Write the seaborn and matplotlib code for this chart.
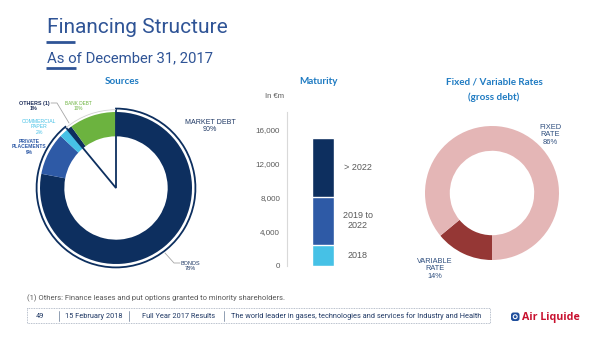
import numpy as np
import pandas as pd
import matplotlib
matplotlib.use("Agg")
import matplotlib.pyplot as plt
import seaborn as sns
from matplotlib.patches import Wedge, Arc, FancyBboxPatch, Rectangle, Circle

sns.set_theme(style="white")
plt.rcParams['font.family'] = ['Liberation Sans', 'DejaVu Sans']

# ---------------- data ----------------
source_labels = ["BONDS\n78%", "PRIVATE\nPLACEMENTS\n9%", "COMMERCIAL\nPAPER\n2%", "OTHERS (1)\n1%", "BANK DEBT\n10%"]
source_pct = [78, 9, 2, 1, 10]
market_debt_label = "MARKET DEBT\n90%"
maturity_labels = ["2018", "2019 to\n2022", "> 2022"]
maturity_values = [2500, 5600, 6900]
maturity_ticks = [0, 4000, 8000, 12000, 16000]
rate_labels = ["VARIABLE\nRATE\n14%", "FIXED\nRATE\n86%"]
rate_pct = [14, 86]

# ---------------- styling ----------------
NAVY = "#0d2f5f"
MID = "#2e5aa6"
LIGHT = "#46c1e6"
GREEN = "#6cb33f"
PINK = "#e4b6b6"
DRED = "#953735"
TITLE_BLUE = "#2f5496"
SEC_BLUE = "#1f7bc2"
GREY = "#595959"

W, H = 600, 337
fig = plt.figure(figsize=(6, 3.37), dpi=100)
fig.patch.set_facecolor("white")


def px_axes(x0, y0, x1, y1):
    return fig.add_axes([x0 / W, 1 - y1 / H, (x1 - x0) / W, (y1 - y0) / H])


def donut_axes(cx, cy, r, m=1.35):
    R = r * m
    ax = px_axes(cx - R, cy - R, cx + R, cy + R)
    ax.axis('off')
    return ax, m


# ---------------- Sources donut ----------------
ax1, m1 = donut_axes(116, 188, 76)
src_colors = [NAVY, MID, LIGHT, NAVY, GREEN]
ax1.pie(source_pct, colors=src_colors, startangle=90, counterclock=False, radius=1,
        wedgeprops=dict(width=0.32, edgecolor='none'))
ax1.set_xlim(-m1, m1)
ax1.set_ylim(-m1, m1)
frac_market = sum(source_pct[:3]) / sum(source_pct)
ax1.add_patch(Wedge((0, 0), 1.045, 90 - 360 * frac_market, 90, fill=False,
                    edgecolor=NAVY, lw=1.3))
ax1.add_patch(Arc((0, 0), 2.06, 2.06, theta1=90, theta2=90 + 360 * (1 - frac_market),
                  color="#d0d0d0", lw=0.6))

# ---------------- Maturity stacked bar ----------------
axm = px_axes(287, 112, 400, 266)
cum = np.cumsum(maturity_values)
mat_colors = [LIGHT, MID, NAVY]
for i in reversed(range(len(maturity_values))):
    sns.barplot(x=["Maturity"], y=[cum[i]], color=mat_colors[i], saturation=1,
                width=0.8, errorbar=None, ax=axm)
axm.set_xlim(-1.31, 2.8)
axm.set_ylim(0, 18000)
axm.set_yticks(maturity_ticks)
axm.set_yticklabels([f"{t:,}" for t in maturity_ticks])
axm.set_xticks([])
axm.set_xlabel("")
axm.set_ylabel("")
axm.tick_params(axis='y', length=0, pad=5, labelsize=5.8, labelcolor=GREY)
for s in ["top", "right", "bottom"]:
    axm.spines[s].set_visible(False)
axm.spines["left"].set_color("#d9d9d9")
axm.spines["left"].set_linewidth(0.8)
axm.set_facecolor("none")
bottoms = np.concatenate([[0], cum[:-1]])
for lab, b, t in zip(maturity_labels, bottoms, cum):
    axm.text(1.27, (b + t) / 2, lab, ha='center', va='center', fontsize=6.5,
             color=GREY, linespacing=1.1)

# ---------------- Fixed / Variable donut ----------------
ax3, m3 = donut_axes(492, 193, 67)
ax3.pie(rate_pct, colors=[DRED, PINK], startangle=270, counterclock=False, radius=1,
        wedgeprops=dict(width=0.37, edgecolor='none'))
ax3.set_xlim(-m3, m3)
ax3.set_ylim(-m3, m3)

# ---------------- overlay (texts in pixel coords) ----------------
ov = fig.add_axes([0, 0, 1, 1])
ov.set_xlim(0, W)
ov.set_ylim(H, 0)
ov.axis('off')

ov.text(47, 33, "Financing Structure", fontsize=15, color=TITLE_BLUE,
        family=['Roboto', 'DejaVu Sans'], va='baseline')
ov.plot([46, 75], [42, 42], color=TITLE_BLUE, lw=2, solid_capstyle='butt')
ov.text(47, 62, "As of December 31, 2017", fontsize=10.7, color=TITLE_BLUE,
        family=['Roboto', 'DejaVu Sans'], va='baseline')
ov.plot([46, 76], [68, 68], color=TITLE_BLUE, lw=2, solid_capstyle='butt')

sec = dict(fontsize=7.1, color=SEC_BLUE, weight='bold', family=['Lato', 'DejaVu Sans'],
           ha='center', va='center')
ov.text(122, 82, "Sources", **sec)
ov.text(319, 82, "Maturity", **sec)
ov.text(494, 82, "Fixed / Variable Rates", **sec)
ov.text(494, 97, "(gross debt)", **sec)
ov.text(284, 97, "In €m", fontsize=5.5, color=GREY, ha='right', va='center')

lab = dict(ha='center', va='center', linespacing=1.05)
ov.text(34, 106, source_labels[3], color="#1f2f5a", fontsize=3.9, weight='bold', **lab)
ov.text(78, 106, source_labels[4], color=GREEN, fontsize=3.4, **lab)
ov.text(39, 127, source_labels[2], color=LIGHT, fontsize=3.7, **lab)
ov.text(29, 147, source_labels[1], color=MID, fontsize=3.6, weight='bold', **lab)
ov.text(210, 126, market_debt_label, color="#1f3864", fontsize=5.1, **lab)
ov.text(190, 266, source_labels[0], color="#1f3864", fontsize=4.0, **lab)
ov.text(550, 135, rate_labels[1], color="#2f4f7f", fontsize=5.4, ha='center',
        va='center', linespacing=1.15)
ov.text(435, 269, rate_labels[0], color="#2f4f7f", fontsize=5.3, ha='center',
        va='center', linespacing=1.15)

# leader lines
ov.plot([51, 57, 69], [103, 103, 123], color="#a6a6a6", lw=0.6)
ov.plot([165, 174, 180], [253, 263, 263], color="#a6a6a6", lw=0.6)

# footnote + footer
ov.text(27, 298, "(1) Others: Finance leases and put options granted to minority shareholders.",
        fontsize=5.5, color=GREY, family=['Roboto', 'DejaVu Sans'], va='center')
ov.add_patch(Rectangle((27, 308), 463, 15, fill=False, ec="#a0aabb", lw=0.6, ls=(0, (1, 1))))
foot = dict(fontsize=5.35, color="#1f3864", family=['Roboto', 'DejaVu Sans'], va='center')
ov.text(36, 316, "49", **foot)
ov.text(65, 316, "15 February 2018", **foot)
ov.text(142, 316, "Full Year 2017 Results", **foot)
ov.text(231, 316, "The world leader in gases, technologies and services for Industry and Health", **foot)
for xs in [59, 129, 224]:
    ov.plot([xs, xs], [311, 321], color="#7f8fa6", lw=0.6)

# logo
ov.add_patch(FancyBboxPatch((511, 312.5), 8.5, 8.5, boxstyle="round,pad=0,rounding_size=2.5",
                            fc="#1f4e9c", ec="none"))
ov.add_patch(Circle((515.2, 316.7), 2.5, fc="white", ec="none"))
ov.add_patch(Circle((515.2, 316.7), 1.4, fc="#1f4e9c", ec="none"))
ov.text(522, 317.3, "Air Liquide", fontsize=7.7, weight='bold', color="#c8102e",
        family=['Open Sans', 'DejaVu Sans'], va='center')

fig.savefig("out.png", dpi=100, facecolor="white")
